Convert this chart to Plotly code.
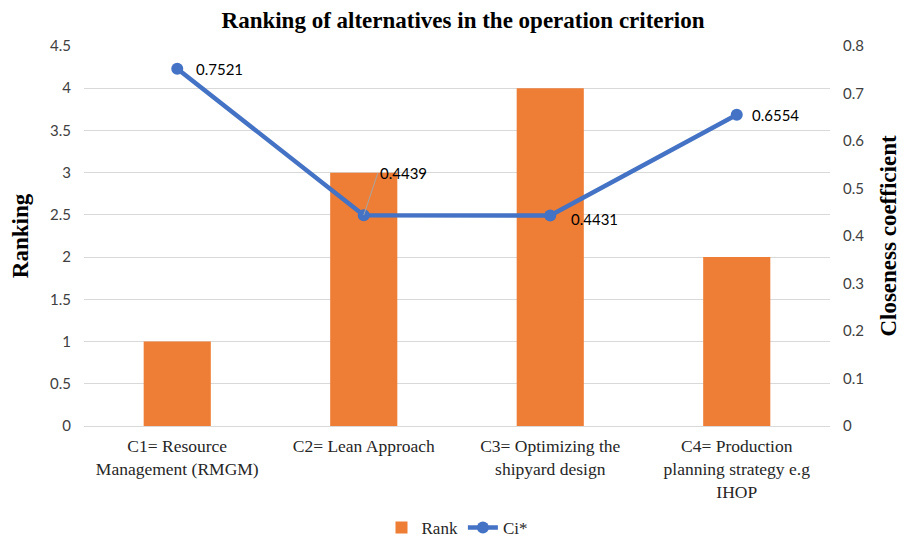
import plotly.graph_objects as go

categories = ["C1= Resource<br>Management (RMGM)", "C2= Lean Approach",
              "C3= Optimizing the<br>shipyard design", "C4= Production<br>planning strategy e.g<br>IHOP"]
rank = [1, 3, 4, 2]
ci = [0.7521, 0.4439, 0.4431, 0.6554]
ci_labels = ["0.7521", "0.4439", "0.4431", "0.6554"]
left_ticks = [0, 0.5, 1, 1.5, 2, 2.5, 3, 3.5, 4, 4.5]
left_tick_text = ["0", "0.5", "1", "1.5", "2", "2.5", "3", "3.5", "4", "4.5"]
right_ticks = [0, 0.1, 0.2, 0.3, 0.4, 0.5, 0.6, 0.7, 0.8]
right_tick_text = ["0", "0.1", "0.2", "0.3", "0.4", "0.5", "0.6", "0.7", "0.8"]

serif = "Liberation Serif, Times New Roman, serif"
sans = "Lato, Carlito, Calibri, sans-serif"

fig = go.Figure()
fig.add_trace(go.Bar(
    x=categories, y=rank, name="Rank", width=0.36,
    marker=dict(color="#EE7D35", line=dict(width=0)),
    yaxis="y"))
fig.add_trace(go.Scatter(
    x=categories, y=ci, name="Ci*", yaxis="y2",
    mode="lines+markers",
    line=dict(color="#4472C4", width=4.5),
    marker=dict(color="#4472C4", size=12),
    cliponaxis=False))

# data labels
label_style = [
    dict(xshift=17, yshift=0, showarrow=False),
    dict(showarrow=True, ax=14, ay=-42, arrowhead=0, arrowwidth=1, arrowcolor="#a6a6a6"),
    dict(xshift=19, yshift=-3, showarrow=False),
    dict(xshift=13, yshift=0, showarrow=False),
]
for cat, val, lab, st in zip(categories, ci, ci_labels, label_style):
    fig.add_annotation(x=cat, y=val, xref="x", yref="y2", text=lab,
                       xanchor="left", yanchor="middle",
                       font=dict(family=sans, size=15, color="#000000"), **st)

fig.update_layout(
    width=910, height=540,
    margin=dict(l=76, r=88, t=38, b=122),
    paper_bgcolor="white", plot_bgcolor="white",
    title=dict(text="<b>Ranking of alternatives in the operation criterion</b>",
               x=0.5, xanchor="center", y=1 - 12 / 540, yanchor="middle",
               font=dict(family=serif, size=23, color="#000000")),
    bargap=0.63,
    xaxis=dict(tickfont=dict(family=serif, size=17.5, color="#262626"),
               showline=True, linecolor="#d9d9d9", linewidth=1,
               ticks="", showgrid=False, ticklabelstandoff=4, automargin=False),
    yaxis=dict(range=[0, 4.5], tickvals=left_ticks, ticktext=left_tick_text,
               tickfont=dict(family=sans, size=15, color="#404040"),
               showgrid=True, gridcolor="#d9d9d9", gridwidth=1,
               zeroline=False, ticks="", ticklabelstandoff=12, automargin=False,
               title=dict(text="<b>Ranking</b>", font=dict(family=serif, size=23, color="#000000"),
                          standoff=14)),
    yaxis2=dict(range=[0, 0.8], tickvals=right_ticks, ticktext=right_tick_text,
                overlaying="y", side="right",
                tickfont=dict(family=sans, size=15, color="#404040"),
                showgrid=False, zeroline=False, ticks="", ticklabelstandoff=12, automargin=False,
                title=dict(text="<b>Closeness coefficient</b>",
                           font=dict(family=serif, size=23, color="#000000"), standoff=16)),
    legend=dict(orientation="h", x=0.5, xanchor="center",
                yref="container", y=20 / 540, yanchor="middle",
                font=dict(family=serif, size=17, color="#262626")),
    showlegend=True,
)

fig.write_html("out.html")
